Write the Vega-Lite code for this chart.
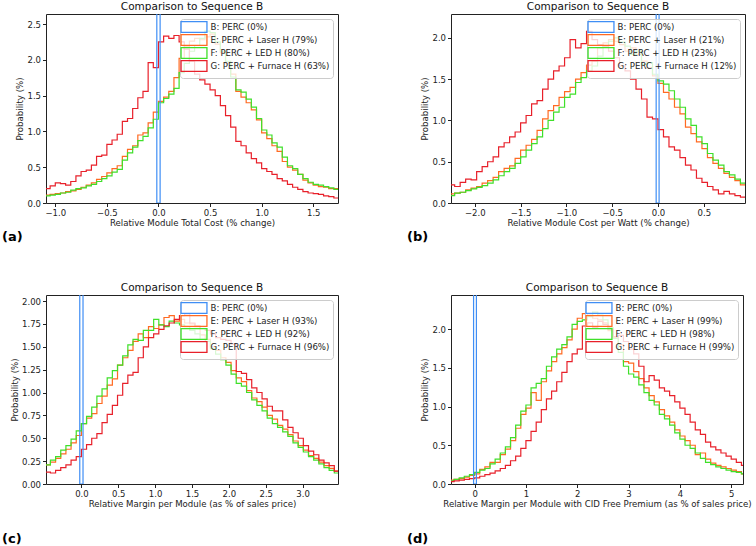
{
"$schema":"https://vega.github.io/schema/vega-lite/v6.json",
"padding":{"left":1,"top":1,"right":2,"bottom":0},
"config":{
 "font":"DejaVu Sans",
 "view":{"stroke":"#222","strokeWidth":1},
 "axis":{"domain":false,"grid":false,"labelOverlap":false,"tickColor":"#222","tickSize":3.5,"labelFontSize":8.5,"labelColor":"#222","titleFontSize":8.6,"titleFontWeight":"normal","titleColor":"#222","labelPadding":2,"titlePadding":1},
 "axisY":{"titlePadding":2},
 "legend":{"orient":"top-right","offset":5,"padding":3.5,"rowPadding":-5.3,"labelFontSize":8.6,"labelColor":"#222","symbolType":"M-3.4,-1.4H3.4V1.4H-3.4Z","symbolSize":58,"symbolStrokeWidth":1.3,"symbolOffset":6,"labelOffset":12,"fillColor":"rgba(255,255,255,0.8)","strokeColor":"#ccc","cornerRadius":3},
 "title":{"fontSize":10.5,"fontWeight":"normal","color":"#111","offset":2}
},
"datasets":{
"a":[
{"x":-1.10,"E":0.11,"F":0.10,"G":0.20},{"x":-1.05,"E":0.12,"F":0.11,"G":0.24},{"x":-1.00,"E":0.13,"F":0.12,"G":0.28},{"x":-0.95,"E":0.14,"F":0.14,"G":0.27},{"x":-0.90,"E":0.16,"F":0.15,"G":0.25},{"x":-0.85,"E":0.17,"F":0.18,"G":0.30},{"x":-0.80,"E":0.19,"F":0.20,"G":0.38},{"x":-0.75,"E":0.22,"F":0.21,"G":0.44},{"x":-0.70,"E":0.25,"F":0.24,"G":0.46},{"x":-0.65,"E":0.28,"F":0.26,"G":0.53},{"x":-0.60,"E":0.33,"F":0.30,"G":0.65},{"x":-0.55,"E":0.37,"F":0.34,"G":0.67},{"x":-0.50,"E":0.42,"F":0.38,"G":0.82},{"x":-0.45,"E":0.48,"F":0.43,"G":0.88},{"x":-0.40,"E":0.52,"F":0.47,"G":0.96},{"x":-0.35,"E":0.65,"F":0.60,"G":1.14},{"x":-0.30,"E":0.75,"F":0.70,"G":1.18},{"x":-0.25,"E":0.80,"F":0.78,"G":1.32},{"x":-0.20,"E":0.95,"F":0.87,"G":1.47},{"x":-0.15,"E":0.98,"F":0.93,"G":1.56},{"x":-0.10,"E":1.12,"F":1.05,"G":1.96},{"x":-0.05,"E":1.27,"F":1.17,"G":1.89},{"x":0.00,"E":1.42,"F":1.40,"G":2.25},{"x":0.05,"E":1.48,"F":1.46,"G":2.33},{"x":0.10,"E":1.56,"F":1.52,"G":2.30},{"x":0.15,"E":1.75,"F":1.60,"G":2.34},{"x":0.20,"E":2.02,"F":1.82,"G":2.25},{"x":0.25,"E":2.18,"F":1.95,"G":2.15},{"x":0.30,"E":2.26,"F":2.12,"G":1.98},{"x":0.35,"E":2.30,"F":2.20,"G":1.80},{"x":0.40,"E":2.28,"F":2.30,"G":1.72},{"x":0.45,"E":2.32,"F":2.40,"G":1.66},{"x":0.50,"E":2.36,"F":2.38,"G":1.58},{"x":0.55,"E":2.22,"F":2.25,"G":1.50},{"x":0.60,"E":2.10,"F":2.12,"G":1.36},{"x":0.65,"E":1.95,"F":1.98,"G":1.22},{"x":0.70,"E":1.80,"F":1.76,"G":1.06},{"x":0.75,"E":1.56,"F":1.58,"G":0.86},{"x":0.80,"E":1.48,"F":1.55,"G":0.80},{"x":0.85,"E":1.40,"F":1.45,"G":0.70},{"x":0.90,"E":1.30,"F":1.34,"G":0.62},{"x":0.95,"E":1.16,"F":1.18,"G":0.56},{"x":1.00,"E":0.98,"F":1.02,"G":0.48},{"x":1.05,"E":0.90,"F":0.95,"G":0.44},{"x":1.10,"E":0.80,"F":0.84,"G":0.40},{"x":1.15,"E":0.72,"F":0.78,"G":0.34},{"x":1.20,"E":0.58,"F":0.64,"G":0.31},{"x":1.25,"E":0.50,"F":0.52,"G":0.26},{"x":1.30,"E":0.46,"F":0.48,"G":0.22},{"x":1.35,"E":0.40,"F":0.40,"G":0.19},{"x":1.40,"E":0.32,"F":0.34,"G":0.16},{"x":1.45,"E":0.28,"F":0.29,"G":0.14},{"x":1.50,"E":0.25,"F":0.26,"G":0.13},{"x":1.55,"E":0.23,"F":0.25,"G":0.12},{"x":1.60,"E":0.22,"F":0.23,"G":0.10},{"x":1.65,"E":0.20,"F":0.21,"G":0.09},{"x":1.70,"E":0.20,"F":0.19,"G":0.07},{"x":1.75,"E":0.19,"F":0.18,"G":0.06}
],
"b":[
{"x":-2.28,"E":0.11,"F":0.09,"G":0.22},{"x":-2.22,"E":0.12,"F":0.12,"G":0.20},{"x":-2.16,"E":0.13,"F":0.13,"G":0.25},{"x":-2.10,"E":0.16,"F":0.15,"G":0.29},{"x":-2.04,"E":0.18,"F":0.17,"G":0.28},{"x":-1.98,"E":0.20,"F":0.19,"G":0.38},{"x":-1.92,"E":0.24,"F":0.21,"G":0.44},{"x":-1.86,"E":0.27,"F":0.24,"G":0.50},{"x":-1.80,"E":0.31,"F":0.28,"G":0.56},{"x":-1.74,"E":0.38,"F":0.33,"G":0.68},{"x":-1.68,"E":0.42,"F":0.38,"G":0.73},{"x":-1.62,"E":0.45,"F":0.42,"G":0.80},{"x":-1.56,"E":0.54,"F":0.48,"G":0.86},{"x":-1.50,"E":0.64,"F":0.56,"G":0.97},{"x":-1.44,"E":0.70,"F":0.64,"G":1.06},{"x":-1.38,"E":0.77,"F":0.72,"G":1.20},{"x":-1.32,"E":0.88,"F":0.80,"G":1.24},{"x":-1.26,"E":1.02,"F":0.90,"G":1.38},{"x":-1.20,"E":1.12,"F":1.00,"G":1.50},{"x":-1.14,"E":1.18,"F":1.10,"G":1.60},{"x":-1.08,"E":1.28,"F":1.16,"G":1.66},{"x":-1.02,"E":1.35,"F":1.28,"G":1.76},{"x":-0.96,"E":1.40,"F":1.32,"G":1.98},{"x":-0.90,"E":1.50,"F":1.46,"G":1.88},{"x":-0.84,"E":1.58,"F":1.52,"G":1.93},{"x":-0.78,"E":1.67,"F":1.60,"G":2.08},{"x":-0.72,"E":1.72,"F":1.66,"G":1.98},{"x":-0.66,"E":1.88,"F":1.78,"G":1.92},{"x":-0.60,"E":1.94,"F":1.90,"G":1.90},{"x":-0.54,"E":1.98,"F":1.96,"G":1.84},{"x":-0.48,"E":1.96,"F":2.00,"G":1.76},{"x":-0.42,"E":1.92,"F":1.95,"G":1.66},{"x":-0.36,"E":1.84,"F":1.90,"G":1.60},{"x":-0.30,"E":1.88,"F":1.80,"G":1.50},{"x":-0.24,"E":1.80,"F":1.84,"G":1.38},{"x":-0.18,"E":1.72,"F":1.68,"G":1.26},{"x":-0.12,"E":1.64,"F":1.70,"G":1.04},{"x":-0.06,"E":1.54,"F":1.56,"G":1.02},{"x":0.00,"E":1.45,"F":1.48,"G":0.89},{"x":0.06,"E":1.34,"F":1.44,"G":0.80},{"x":0.12,"E":1.26,"F":1.36,"G":0.68},{"x":0.18,"E":1.16,"F":1.26,"G":0.64},{"x":0.24,"E":1.08,"F":1.16,"G":0.55},{"x":0.30,"E":0.92,"F":1.02,"G":0.46},{"x":0.36,"E":0.84,"F":0.94,"G":0.40},{"x":0.42,"E":0.74,"F":0.80,"G":0.30},{"x":0.48,"E":0.66,"F":0.72,"G":0.25},{"x":0.54,"E":0.55,"F":0.60,"G":0.20},{"x":0.60,"E":0.48,"F":0.52,"G":0.16},{"x":0.66,"E":0.42,"F":0.46,"G":0.11},{"x":0.72,"E":0.36,"F":0.38,"G":0.14},{"x":0.78,"E":0.31,"F":0.34,"G":0.11},{"x":0.84,"E":0.27,"F":0.29,"G":0.09},{"x":0.90,"E":0.22,"F":0.24,"G":0.07},{"x":0.96,"E":0.20,"F":0.18,"G":0.07}
],
"c":[
{"x":-0.49,"E":0.21,"F":0.21,"G":0.13},{"x":-0.42,"E":0.24,"F":0.26,"G":0.12},{"x":-0.35,"E":0.28,"F":0.30,"G":0.15},{"x":-0.28,"E":0.33,"F":0.37,"G":0.18},{"x":-0.21,"E":0.38,"F":0.42,"G":0.21},{"x":-0.14,"E":0.45,"F":0.49,"G":0.26},{"x":-0.07,"E":0.53,"F":0.58,"G":0.30},{"x":0.00,"E":0.66,"F":0.66,"G":0.38},{"x":0.07,"E":0.72,"F":0.74,"G":0.43},{"x":0.14,"E":0.77,"F":0.84,"G":0.50},{"x":0.21,"E":0.88,"F":0.96,"G":0.55},{"x":0.28,"E":0.96,"F":1.04,"G":0.67},{"x":0.35,"E":1.08,"F":1.16,"G":0.76},{"x":0.42,"E":1.15,"F":1.24,"G":0.86},{"x":0.49,"E":1.30,"F":1.30,"G":0.97},{"x":0.56,"E":1.38,"F":1.40,"G":1.10},{"x":0.63,"E":1.46,"F":1.52,"G":1.19},{"x":0.70,"E":1.56,"F":1.58,"G":1.22},{"x":0.77,"E":1.64,"F":1.57,"G":1.38},{"x":0.84,"E":1.60,"F":1.68,"G":1.50},{"x":0.91,"E":1.72,"F":1.68,"G":1.60},{"x":0.98,"E":1.70,"F":1.80,"G":1.64},{"x":1.05,"E":1.74,"F":1.74,"G":1.69},{"x":1.12,"E":1.82,"F":1.72,"G":1.73},{"x":1.19,"E":1.84,"F":1.78,"G":1.76},{"x":1.26,"E":1.78,"F":1.76,"G":1.80},{"x":1.33,"E":1.80,"F":1.74,"G":1.84},{"x":1.40,"E":1.76,"F":1.72,"G":1.86},{"x":1.47,"E":1.75,"F":1.68,"G":1.76},{"x":1.54,"E":1.72,"F":1.64,"G":1.73},{"x":1.61,"E":1.63,"F":1.58,"G":1.70},{"x":1.68,"E":1.58,"F":1.56,"G":1.68},{"x":1.75,"E":1.50,"F":1.48,"G":1.64},{"x":1.82,"E":1.46,"F":1.42,"G":1.60},{"x":1.89,"E":1.38,"F":1.36,"G":1.58},{"x":1.96,"E":1.33,"F":1.30,"G":1.57},{"x":2.03,"E":1.24,"F":1.20,"G":1.53},{"x":2.10,"E":1.16,"F":1.10,"G":1.23},{"x":2.17,"E":1.12,"F":1.07,"G":1.21},{"x":2.24,"E":1.02,"F":1.00,"G":1.14},{"x":2.31,"E":0.94,"F":0.92,"G":1.05},{"x":2.38,"E":0.90,"F":0.86,"G":1.00},{"x":2.45,"E":0.84,"F":0.80,"G":0.93},{"x":2.52,"E":0.75,"F":0.72,"G":0.85},{"x":2.59,"E":0.71,"F":0.66,"G":0.80},{"x":2.66,"E":0.64,"F":0.62,"G":0.80},{"x":2.73,"E":0.60,"F":0.57,"G":0.70},{"x":2.80,"E":0.54,"F":0.52,"G":0.62},{"x":2.87,"E":0.47,"F":0.45,"G":0.56},{"x":2.94,"E":0.42,"F":0.40,"G":0.50},{"x":3.01,"E":0.37,"F":0.35,"G":0.42},{"x":3.08,"E":0.31,"F":0.30,"G":0.36},{"x":3.15,"E":0.28,"F":0.26,"G":0.32},{"x":3.22,"E":0.24,"F":0.22,"G":0.26},{"x":3.29,"E":0.20,"F":0.18,"G":0.23},{"x":3.36,"E":0.17,"F":0.15,"G":0.20},{"x":3.43,"E":0.14,"F":0.12,"G":0.14},{"x":3.50,"E":0.13,"F":0.12,"G":0.14}
],
"d":[
{"x":-0.5,"E":0.05,"F":0.04,"G":0.03},{"x":-0.4,"E":0.06,"F":0.06,"G":0.04},{"x":-0.3,"E":0.07,"F":0.08,"G":0.05},{"x":-0.2,"E":0.09,"F":0.10,"G":0.06},{"x":-0.1,"E":0.11,"F":0.12,"G":0.07},{"x":0.0,"E":0.13,"F":0.15,"G":0.08},{"x":0.1,"E":0.19,"F":0.18,"G":0.10},{"x":0.2,"E":0.22,"F":0.20,"G":0.12},{"x":0.3,"E":0.28,"F":0.26,"G":0.14},{"x":0.4,"E":0.28,"F":0.32,"G":0.17},{"x":0.5,"E":0.38,"F":0.40,"G":0.20},{"x":0.6,"E":0.45,"F":0.48,"G":0.24},{"x":0.7,"E":0.56,"F":0.60,"G":0.30},{"x":0.8,"E":0.72,"F":0.76,"G":0.36},{"x":0.9,"E":0.90,"F":0.94,"G":0.46},{"x":1.0,"E":0.98,"F":1.02,"G":0.56},{"x":1.1,"E":1.18,"F":1.24,"G":0.68},{"x":1.2,"E":1.08,"F":1.30,"G":0.80},{"x":1.3,"E":1.32,"F":1.36,"G":0.96},{"x":1.4,"E":1.46,"F":1.52,"G":1.10},{"x":1.5,"E":1.58,"F":1.64,"G":1.20},{"x":1.6,"E":1.68,"F":1.74,"G":1.32},{"x":1.7,"E":1.76,"F":1.80,"G":1.44},{"x":1.8,"E":1.86,"F":1.90,"G":1.58},{"x":1.9,"E":2.00,"F":2.06,"G":1.68},{"x":2.0,"E":2.14,"F":2.10,"G":1.74},{"x":2.1,"E":2.20,"F":2.12,"G":2.04},{"x":2.2,"E":2.18,"F":2.16,"G":2.08},{"x":2.3,"E":2.14,"F":2.22,"G":2.02},{"x":2.4,"E":2.12,"F":2.18,"G":2.10},{"x":2.5,"E":2.08,"F":2.12,"G":2.06},{"x":2.6,"E":1.98,"F":2.02,"G":2.00},{"x":2.7,"E":1.90,"F":1.88,"G":1.90},{"x":2.8,"E":1.80,"F":1.70,"G":1.92},{"x":2.9,"E":1.58,"F":1.52,"G":1.84},{"x":3.0,"E":1.56,"F":1.42,"G":1.74},{"x":3.1,"E":1.45,"F":1.38,"G":1.68},{"x":3.2,"E":1.36,"F":1.28,"G":1.52},{"x":3.3,"E":1.24,"F":1.18,"G":1.32},{"x":3.4,"E":1.14,"F":1.08,"G":1.40},{"x":3.5,"E":1.06,"F":1.02,"G":1.34},{"x":3.6,"E":0.96,"F":0.90,"G":1.24},{"x":3.7,"E":0.88,"F":0.84,"G":1.20},{"x":3.8,"E":0.80,"F":0.76,"G":1.14},{"x":3.9,"E":0.70,"F":0.66,"G":1.06},{"x":4.0,"E":0.62,"F":0.58,"G":0.98},{"x":4.1,"E":0.56,"F":0.50,"G":0.90},{"x":4.2,"E":0.50,"F":0.46,"G":0.80},{"x":4.3,"E":0.38,"F":0.40,"G":0.70},{"x":4.4,"E":0.40,"F":0.33,"G":0.64},{"x":4.5,"E":0.32,"F":0.28,"G":0.54},{"x":4.6,"E":0.27,"F":0.25,"G":0.48},{"x":4.7,"E":0.24,"F":0.22,"G":0.44},{"x":4.8,"E":0.22,"F":0.20,"G":0.40},{"x":4.9,"E":0.20,"F":0.18,"G":0.36},{"x":5.0,"E":0.18,"F":0.16,"G":0.32},{"x":5.1,"E":0.16,"F":0.15,"G":0.28},{"x":5.2,"E":0.13,"F":0.13,"G":0.24},{"x":5.3,"E":0.12,"F":0.12,"G":0.20}
],
"B":[{"s":"B","panel":"a","x0":-0.016,"x1":0.016},{"s":"B","panel":"b","x0":-0.02,"x1":0.012},{"s":"B","panel":"c","x0":-0.022,"x1":0.022},{"s":"B","panel":"d","x0":-0.02,"x1":0.035}]
},
"columns":2,
"align":"each",
"spacing":{"row":37,"column":67},
"resolve":{"scale":{"color":"independent"},"legend":{"color":"independent"}},
"concat":[
{"resolve":{"scale":{"color":"independent"},"legend":{"color":"independent"}},
 "title":{"text":"(a)","orient":"bottom","anchor":"start","fontSize":13,"fontWeight":"bold","color":"#000","offset":4,"dx":-13.5},
 "vconcat":[{"width":292,"height":189,"title":{"text":"Comparison to Sequence B"},
  "layer":[
   {"data":{"name":"a"},"transform":[{"fold":["E","F","G"],"as":["s","p"]}],
    "mark":{"type":"line","interpolate":"step-after","clip":true,"strokeWidth":1.2},
    "encoding":{
     "x":{"field":"x","type":"quantitative","title":"Relative Module Total Cost (% change)","scale":{"domain":[-1.09,1.74],"nice":false,"zero":false},"axis":{"values":[-1,-0.5,0,0.5,1,1.5],"format":".1f","labelOverlap":false}},
     "y":{"field":"p","type":"quantitative","title":"Probability (%)","scale":{"domain":[0,2.64],"nice":false},"axis":{"values":[0,0.5,1,1.5,2,2.5],"format":".1f","labelOverlap":false}},
     "color":{"field":"s","type":"nominal","scale":{"domain":["B","E","F","G"],"range":["#3f8ef5","#ff6a22","#3fe02a","#e8202a"]},
      "legend":{"title":null,"labelExpr":"{'B':'B: PERC (0%)','E':'E: PERC + Laser H (79%)','F':'F: PERC + LED H (80%)','G':'G: PERC + Furnace H (63%)'}[datum.label]","encode":{"symbols":{"update":{"fill":{"value":"transparent"}}}}}}}},
   {"data":{"name":"B"},"transform":[{"filter":"datum.panel == 'a'"}],
    "mark":{"type":"rect","filled":false,"clip":true,"strokeWidth":1.2},
    "encoding":{"x":{"field":"x0","type":"quantitative","title":"Relative Module Total Cost (% change)","axis":{"values":[-1,-0.5,0,0.5,1,1.5],"format":".1f","labelOverlap":false}},"x2":{"field":"x1"},"y":{"datum":0,"type":"quantitative","title":"Probability (%)","axis":{"values":[0,0.5,1,1.5,2,2.5],"format":".1f","labelOverlap":false}},"y2":{"datum":10},"color":{"field":"s","type":"nominal"}}}
  ]}]},
{"resolve":{"scale":{"color":"independent"},"legend":{"color":"independent"}},
 "title":{"text":"(b)","orient":"bottom","anchor":"start","fontSize":13,"fontWeight":"bold","color":"#000","offset":4,"dx":-13.5},
 "vconcat":[{"width":294,"height":189,"title":{"text":"Comparison to Sequence B"},
  "layer":[
   {"data":{"name":"b"},"transform":[{"fold":["E","F","G"],"as":["s","p"]}],
    "mark":{"type":"line","interpolate":"step-after","clip":true,"strokeWidth":1.2},
    "encoding":{
     "x":{"field":"x","type":"quantitative","title":"Relative Module Cost per Watt (% change)","scale":{"domain":[-2.26,0.95],"nice":false,"zero":false},"axis":{"values":[-2,-1.5,-1,-0.5,0,0.5],"format":".1f","labelOverlap":false}},
     "y":{"field":"p","type":"quantitative","title":"Probability (%)","scale":{"domain":[0,2.29],"nice":false},"axis":{"values":[0,0.5,1,1.5,2],"format":".1f","labelOverlap":false}},
     "color":{"field":"s","type":"nominal","scale":{"domain":["B","E","F","G"],"range":["#3f8ef5","#ff6a22","#3fe02a","#e8202a"]},
      "legend":{"title":null,"labelExpr":"{'B':'B: PERC (0%)','E':'E: PERC + Laser H (21%)','F':'F: PERC + LED H (23%)','G':'G: PERC + Furnace H (12%)'}[datum.label]","encode":{"symbols":{"update":{"fill":{"value":"transparent"}}}}}}}},
   {"data":{"name":"B"},"transform":[{"filter":"datum.panel == 'b'"}],
    "mark":{"type":"rect","filled":false,"clip":true,"strokeWidth":1.2},
    "encoding":{"x":{"field":"x0","type":"quantitative","title":"Relative Module Cost per Watt (% change)","axis":{"values":[-2,-1.5,-1,-0.5,0,0.5],"format":".1f","labelOverlap":false}},"x2":{"field":"x1"},"y":{"datum":0,"type":"quantitative","title":"Probability (%)","axis":{"values":[0,0.5,1,1.5,2],"format":".1f","labelOverlap":false}},"y2":{"datum":10},"color":{"field":"s","type":"nominal"}}}
  ]}]},
{"resolve":{"scale":{"color":"independent"},"legend":{"color":"independent"}},
 "title":{"text":"(c)","orient":"bottom","anchor":"start","fontSize":13,"fontWeight":"bold","color":"#000","offset":25,"dx":-8},
 "vconcat":[{"width":292,"height":189,"title":{"text":"Comparison to Sequence B"},
  "layer":[
   {"data":{"name":"c"},"transform":[{"fold":["E","F","G"],"as":["s","p"]}],
    "mark":{"type":"line","interpolate":"step-after","clip":true,"strokeWidth":1.2},
    "encoding":{
     "x":{"field":"x","type":"quantitative","title":"Relative Margin per Module (as % of sales price)","scale":{"domain":[-0.48,3.48],"nice":false,"zero":false},"axis":{"values":[0,0.5,1,1.5,2,2.5,3],"format":".1f","labelOverlap":false}},
     "y":{"field":"p","type":"quantitative","title":"Probability (%)","scale":{"domain":[0,2.066],"nice":false},"axis":{"values":[0,0.25,0.5,0.75,1,1.25,1.5,1.75,2],"format":".2f","labelOverlap":false}},
     "color":{"field":"s","type":"nominal","scale":{"domain":["B","E","F","G"],"range":["#3f8ef5","#ff6a22","#3fe02a","#e8202a"]},
      "legend":{"title":null,"labelExpr":"{'B':'B: PERC (0%)','E':'E: PERC + Laser H (93%)','F':'F: PERC + LED H (92%)','G':'G: PERC + Furnace H (96%)'}[datum.label]","encode":{"symbols":{"update":{"fill":{"value":"transparent"}}}}}}}},
   {"data":{"name":"B"},"transform":[{"filter":"datum.panel == 'c'"}],
    "mark":{"type":"rect","filled":false,"clip":true,"strokeWidth":1.2},
    "encoding":{"x":{"field":"x0","type":"quantitative","title":"Relative Margin per Module (as % of sales price)","axis":{"values":[0,0.5,1,1.5,2,2.5,3],"format":".1f","labelOverlap":false}},"x2":{"field":"x1"},"y":{"datum":0,"type":"quantitative","title":"Probability (%)","axis":{"values":[0,0.25,0.5,0.75,1,1.25,1.5,1.75,2],"format":".2f","labelOverlap":false}},"y2":{"datum":10},"color":{"field":"s","type":"nominal"}}}
  ]}]},
{"resolve":{"scale":{"color":"independent"},"legend":{"color":"independent"}},
 "title":{"text":"(d)","orient":"bottom","anchor":"start","fontSize":13,"fontWeight":"bold","color":"#000","offset":25,"dx":-13.5},
 "vconcat":[{"width":292,"height":189,"title":{"text":"Comparison to Sequence B"},
  "layer":[
   {"data":{"name":"d"},"transform":[{"fold":["E","F","G"],"as":["s","p"]}],
    "mark":{"type":"line","interpolate":"step-after","clip":true,"strokeWidth":1.2},
    "encoding":{
     "x":{"field":"x","type":"quantitative","title":"Relative Margin per Module with CID Free Premium (as % of sales price)","scale":{"domain":[-0.46,5.23],"nice":false,"zero":false},"axis":{"values":[0,1,2,3,4,5],"format":"d","labelOverlap":false}},
     "y":{"field":"p","type":"quantitative","title":"Probability (%)","scale":{"domain":[0,2.44],"nice":false},"axis":{"values":[0,0.5,1,1.5,2],"format":".1f","labelOverlap":false}},
     "color":{"field":"s","type":"nominal","scale":{"domain":["B","E","F","G"],"range":["#3f8ef5","#ff6a22","#3fe02a","#e8202a"]},
      "legend":{"title":null,"labelExpr":"{'B':'B: PERC (0%)','E':'E: PERC + Laser H (99%)','F':'F: PERC + LED H (98%)','G':'G: PERC + Furnace H (99%)'}[datum.label]","encode":{"symbols":{"update":{"fill":{"value":"transparent"}}}}}}}},
   {"data":{"name":"B"},"transform":[{"filter":"datum.panel == 'd'"}],
    "mark":{"type":"rect","filled":false,"clip":true,"strokeWidth":1.2},
    "encoding":{"x":{"field":"x0","type":"quantitative","title":"Relative Margin per Module with CID Free Premium (as % of sales price)","axis":{"values":[0,1,2,3,4,5],"format":"d","labelOverlap":false}},"x2":{"field":"x1"},"y":{"datum":0,"type":"quantitative","title":"Probability (%)","axis":{"values":[0,0.5,1,1.5,2],"format":".1f","labelOverlap":false}},"y2":{"datum":10},"color":{"field":"s","type":"nominal"}}}
  ]}]}
]
}
